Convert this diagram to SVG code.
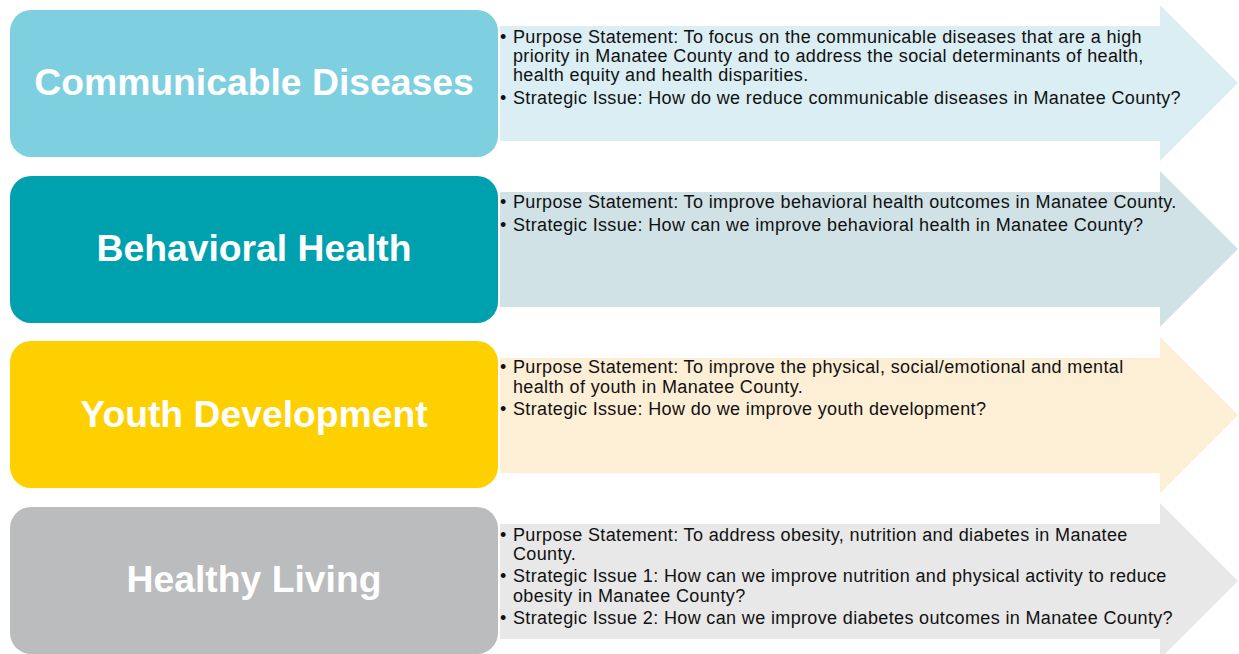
<svg xmlns="http://www.w3.org/2000/svg" width="1239" height="654" viewBox="0 0 1239 654">
<style>
.title{font-family:"Liberation Sans",Arial,sans-serif;font-weight:bold;font-size:37.3px;fill:#ffffff;text-anchor:middle}
.body{font-family:"Liberation Sans",Arial,sans-serif;font-size:18px;letter-spacing:0.36px;fill:#111111}
</style>
<defs>
<polygon id="arrow" points="500,26 1160,26 1160,5 1238,83 1160,161 1160,141 500,141"/>
<rect id="box" x="10" y="10" width="488" height="147" rx="21" ry="21"/>
</defs>
<rect width="1239" height="654" fill="#ffffff"/>
<g id="connectors">
<use href="#arrow" fill="#DAEEF3"/>
<use href="#arrow" fill="#D0E2E6" transform="translate(0,166)"/>
<use href="#arrow" fill="#FDEED6" transform="translate(0,332)"/>
<use href="#arrow" fill="#E8E8E8" transform="translate(0,498)"/>
</g>
<g id="node-communicable">
<use href="#box" fill="#7ECFE0"/>
<text class="title" x="254" y="95">Communicable Diseases</text>
<text class="body"><tspan x="500" y="42.7">•</tspan><tspan x="513" y="42.7">Purpose Statement: To focus on the communicable diseases that are a high</tspan><tspan x="513" y="62">priority in Manatee County and to address the social determinants of health,</tspan><tspan x="513" y="81">health equity and health disparities.</tspan><tspan x="500" y="103.5">•</tspan><tspan x="513" y="103.5">Strategic Issue: How do we reduce communicable diseases in Manatee County?</tspan></text>
</g>
<g id="node-behavioral">
<use href="#box" fill="#00A1AF" transform="translate(0,166)"/>
<text class="title" x="254" y="261">Behavioral Health</text>
<text class="body"><tspan x="500" y="208.3">•</tspan><tspan x="513" y="208.3">Purpose Statement: To improve behavioral health outcomes in Manatee County.</tspan><tspan x="500" y="230.7">•</tspan><tspan x="513" y="230.7">Strategic Issue: How can we improve behavioral health in Manatee County?</tspan></text>
</g>
<g id="node-youth">
<use href="#box" fill="#FFD000" transform="translate(0,331)"/>
<text class="title" x="254" y="427">Youth Development</text>
<text class="body"><tspan x="500" y="373.3">•</tspan><tspan x="513" y="373.3">Purpose Statement: To improve the physical, social/emotional and mental</tspan><tspan x="513" y="392.7">health of youth in Manatee County.</tspan><tspan x="500" y="415">•</tspan><tspan x="513" y="415">Strategic Issue: How do we improve youth development?</tspan></text>
</g>
<g id="node-healthy">
<use href="#box" fill="#BBBCBE" transform="translate(0,497)"/>
<text class="title" x="254" y="592">Healthy Living</text>
<text class="body"><tspan x="500" y="540.7">•</tspan><tspan x="513" y="540.7">Purpose Statement: To address obesity, nutrition and diabetes in Manatee</tspan><tspan x="513" y="560">County.</tspan><tspan x="500" y="582.3">•</tspan><tspan x="513" y="582.3">Strategic Issue 1: How can we improve nutrition and physical activity to reduce</tspan><tspan x="513" y="601.7">obesity in Manatee County?</tspan><tspan x="500" y="624">•</tspan><tspan x="513" y="624">Strategic Issue 2: How can we improve diabetes outcomes in Manatee County?</tspan></text>
</g>
</svg>
